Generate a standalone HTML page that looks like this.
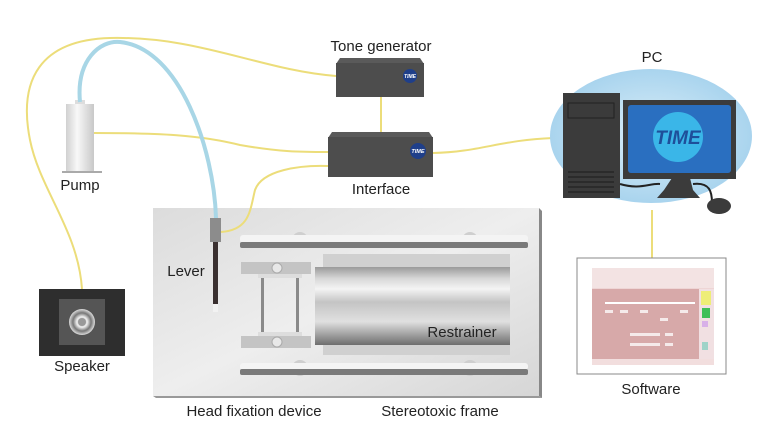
<!DOCTYPE html>
<html><head><meta charset="utf-8"><style>
html,body{margin:0;padding:0;background:#fff;}
svg{display:block;font-family:"Liberation Sans",sans-serif;}
</style></head><body>
<svg width="770" height="444" viewBox="0 0 770 444" xmlns="http://www.w3.org/2000/svg">
<defs>
<linearGradient id="frame" x1="0" y1="0" x2="1" y2="1">
<stop offset="0" stop-color="#dcdcdc"/><stop offset="0.5" stop-color="#eeeeee"/><stop offset="1" stop-color="#d6d6d6"/></linearGradient>
<linearGradient id="tube" x1="0" y1="0" x2="0" y2="1">
<stop offset="0" stop-color="#9a9a9a"/><stop offset="0.15" stop-color="#d8d8d8"/><stop offset="0.28" stop-color="#f4f4f4"/><stop offset="0.45" stop-color="#c4c4c4"/><stop offset="0.7" stop-color="#e0e0e0"/><stop offset="1" stop-color="#6e6e6e"/></linearGradient>
<linearGradient id="pump" x1="0" y1="0" x2="1" y2="0">
<stop offset="0" stop-color="#d0d0d0"/><stop offset="0.4" stop-color="#f8f8f8"/><stop offset="1" stop-color="#c8c8c8"/></linearGradient>
<radialGradient id="halo" cx="0.5" cy="0.5" r="0.5">
<stop offset="0" stop-color="#dbeef8"/><stop offset="1" stop-color="#a9d4ee"/></radialGradient>
<radialGradient id="spk" cx="0.5" cy="0.5" r="0.5">
<stop offset="0" stop-color="#888"/><stop offset="0.4" stop-color="#eee"/><stop offset="0.7" stop-color="#777"/><stop offset="1" stop-color="#ddd"/></radialGradient>
</defs>

<!-- cables -->
<g fill="none" stroke="#ecdd7a" stroke-width="2">
<path d="M82,289 C78,230 40,190 30,140 C18,80 40,40 110,38 C200,36 260,70 336,76"/>
<path d="M94,133 C160,133 200,135 240,145 C280,152 300,152 328,152"/>
<path d="M381,97 L381,132"/>
<path d="M433,153 C480,152 500,140 553,138"/>
<path d="M652,210 L652,258"/>
</g>

<!-- Tone generator -->
<polygon points="340,58 420,58 424,64 336,64" fill="#5a5a5a"/>
<rect x="336" y="63" width="88" height="34" fill="#4d4d4d"/>
<circle cx="410" cy="76" r="7" fill="#1f3f8a"/>
<text x="410" y="78" font-size="5" fill="#fff" text-anchor="middle" font-style="italic" font-weight="bold">TIME</text>
<!-- Interface -->
<polygon points="332,132 429,132 433,138 328,138" fill="#5a5a5a"/>
<rect x="328" y="137" width="105" height="40" fill="#4d4d4d"/>
<circle cx="418" cy="151" r="8" fill="#1f3f8a"/>
<text x="418" y="153" font-size="5.5" fill="#fff" text-anchor="middle" font-style="italic" font-weight="bold">TIME</text>

<!-- Pump -->
<rect x="75" y="100" width="10" height="5" fill="#ddd"/>
<rect x="66" y="104" width="28" height="68" fill="url(#pump)"/>
<rect x="62" y="171" width="40" height="2" fill="#aaa"/>

<!-- Speaker -->
<rect x="39" y="289" width="86" height="67" fill="#2e2e2e"/>
<rect x="59" y="299" width="46" height="46" fill="#555"/>
<circle cx="82" cy="322" r="13" fill="url(#spk)"/>
<circle cx="82" cy="322" r="4" fill="#999"/>

<!-- Frame -->
<polygon points="153,208 539,208 539,396 153,396" fill="url(#frame)"/>
<polygon points="539,208 542,211 542,398 539,396" fill="#888"/>
<polygon points="153,396 539,396 542,398 156,398" fill="#999"/>
<circle cx="300" cy="240" r="8" fill="#cfcfcf"/><circle cx="470" cy="240" r="8" fill="#cfcfcf"/>
<circle cx="300" cy="368" r="8" fill="#cfcfcf"/><circle cx="470" cy="368" r="8" fill="#cfcfcf"/>
<rect x="240" y="235" width="288" height="8" rx="3" fill="#f4f4f4"/>
<rect x="240" y="242" width="288" height="6" rx="2" fill="#7a7a7a"/>
<rect x="240" y="363" width="288" height="7" rx="3" fill="#f4f4f4"/>
<rect x="240" y="369" width="288" height="6" rx="2" fill="#7a7a7a"/>
<rect x="323" y="254" width="187" height="101" fill="#d0d0d0"/>
<rect x="315" y="267" width="195" height="78" fill="url(#tube)"/>
<rect x="241" y="262" width="70" height="12" fill="#c4c4c4"/>
<rect x="241" y="336" width="70" height="12" fill="#c4c4c4"/>
<rect x="258" y="274" width="44" height="4" fill="#ddd"/>
<rect x="258" y="332" width="44" height="4" fill="#ddd"/>
<rect x="261" y="278" width="3" height="54" fill="#8a8a8a"/>
<rect x="296" y="278" width="3" height="54" fill="#8a8a8a"/>
<circle cx="277" cy="268" r="5" fill="#e8e8e8" stroke="#aaa"/>
<circle cx="277" cy="342" r="5" fill="#e8e8e8" stroke="#aaa"/>

<!-- lever cable & water tube over frame -->
<path d="M221,232 C250,230 250,210 255,190 C262,170 300,165 328,166" fill="none" stroke="#ecdd7a" stroke-width="2"/>
<path d="M80,102 C76,60 100,40 120,42 C180,48 214,150 216,218" fill="none" stroke="#a8d6e6" stroke-width="4"/>
<!-- lever -->
<rect x="210" y="218" width="11" height="24" fill="#8c8c8c"/>
<rect x="213" y="242" width="5" height="62" fill="#3a3030"/>
<rect x="213" y="304" width="5" height="8" fill="#f2f2f2"/>

<!-- PC -->
<ellipse cx="651" cy="136" rx="101" ry="67" fill="url(#halo)"/>
<rect x="563" y="93" width="57" height="105" fill="#3b3b3b"/>
<rect x="568" y="103" width="46" height="15" fill="none" stroke="#222" stroke-width="1"/>
<g stroke="#222" stroke-width="1.2"><line x1="568" y1="172" x2="614" y2="172"/><line x1="568" y1="177" x2="614" y2="177"/><line x1="568" y1="182" x2="614" y2="182"/><line x1="568" y1="187" x2="614" y2="187"/><line x1="568" y1="192" x2="614" y2="192"/></g>
<polygon points="672,178 690,178 693,190 700,198 657,198 664,190" fill="#3b3b3b"/>
<rect x="623" y="100" width="113" height="79" fill="#3b3b3b"/>
<rect x="628" y="105" width="103" height="68" rx="3" fill="#2a6fc0"/>
<circle cx="678" cy="137" r="25" fill="#3ab6e8"/>
<text x="678" y="144" font-size="19" fill="#1e4f9a" text-anchor="middle" font-style="italic" font-weight="bold">TIME</text>
<path d="M620,184 C640,190 650,183 660,184 M693,184 C710,182 712,192 712,203" fill="none" stroke="#222" stroke-width="2"/>
<ellipse cx="719" cy="206" rx="12" ry="8" fill="#3b3b3b"/>

<!-- Software -->
<rect x="577" y="258" width="149" height="116" fill="#fff" stroke="#888"/>
<rect x="592" y="268" width="122" height="30" fill="#f3e3e3"/>
<rect x="592" y="288" width="122" height="13" fill="#eed5d5"/>
<rect x="592" y="289" width="107" height="70" fill="#d7a9a9"/>
<rect x="699" y="289" width="15" height="70" fill="#f1e0e2"/>
<rect x="701" y="291" width="10" height="14" fill="#eeee77"/>
<rect x="702" y="308" width="8" height="10" fill="#3fbf58"/>
<rect x="702" y="321" width="6" height="6" fill="#d8b0e8"/>
<rect x="702" y="342" width="6" height="8" fill="#9fd3c8"/>
<rect x="592" y="359" width="122" height="6" fill="#f2dede"/>
<g stroke="#fff" stroke-width="2"><line x1="605" y1="303" x2="695" y2="303"/></g>
<g fill="#f5eaea"><rect x="605" y="310" width="8" height="3"/><rect x="620" y="310" width="8" height="3"/><rect x="640" y="310" width="8" height="3"/><rect x="660" y="318" width="8" height="3"/><rect x="680" y="310" width="8" height="3"/><rect x="630" y="333" width="30" height="3"/><rect x="630" y="343" width="30" height="3"/><rect x="665" y="333" width="8" height="3"/><rect x="665" y="343" width="8" height="3"/></g>

<!-- Labels -->
<g font-size="15" fill="#222" text-anchor="middle">
<text x="381" y="51">Tone generator</text>
<text x="652" y="62">PC</text>
<text x="381" y="194">Interface</text>
<text x="80" y="190">Pump</text>
<text x="186" y="276">Lever</text>
<text x="82" y="371">Speaker</text>
<text x="462" y="337">Restrainer</text>
<text x="254" y="416">Head fixation device</text>
<text x="440" y="416">Stereotoxic frame</text>
<text x="651" y="394">Software</text>
</g>
</svg>
</body></html>
